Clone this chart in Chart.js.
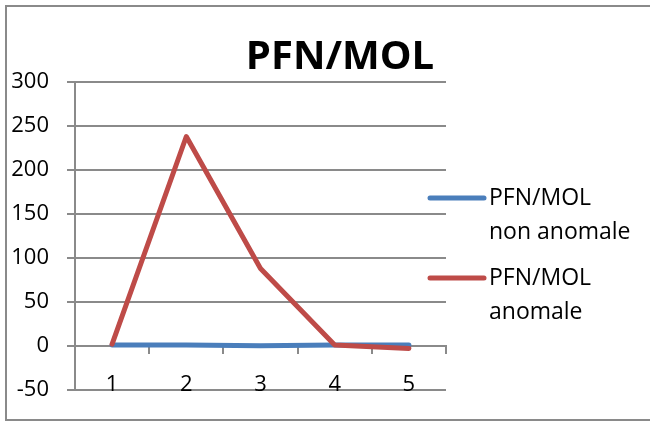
<!DOCTYPE html>
<html>
<head>
<meta charset="utf-8">
<script src="https://cdn.jsdelivr.net/npm/chart.js@4"></script>
<style>
  body { margin: 0; background: #fff; }
  #wrap { width: 650px; height: 421px; }
</style>
</head>
<body>
<div id="wrap"><canvas id="chart" width="650" height="421"></canvas></div>
<script>
const categorie = ["1", "2", "3", "4", "5"];
const nonAnomale = [1, 1, 0, 1, 1];
const anomale = [2, 238, 88, 1, -3];
const etichette = [["PFN/MOL", "non anomale"], ["PFN/MOL", "anomale"]];
const titolo = "PFN/MOL";

const grigio = "#8a8a8a";

// cornice esterna + legenda disegnata a mano (testo su due righe)
const cornice = {
    id: "cornice",
    beforeDraw(chart) {
        const ctx = chart.ctx;
        ctx.save();
        ctx.fillStyle = "#fff";
        ctx.fillRect(0, 0, chart.width, chart.height);
        ctx.strokeStyle = grigio;
        ctx.lineWidth = 2;
        ctx.strokeRect(6, 6, 700, 414);
        ctx.restore();
    },
    afterDraw(chart) {
        const ctx = chart.ctx;
        const area = chart.chartArea;
        ctx.save();
        ctx.font = "23px 'Open Sans'";
        ctx.textBaseline = "middle";
        ctx.fillStyle = "#000";
        chart.data.datasets.forEach((ds, i) => {
            const y = 198 + i * 80;
            ctx.strokeStyle = ds.borderColor;
            ctx.lineWidth = 5;
            ctx.lineCap = "round";
            ctx.beginPath();
            ctx.moveTo(area.right - 16, y);
            ctx.lineTo(area.right + 38, y);
            ctx.stroke();
            etichette[i].forEach((t, k) => {
                ctx.fillText(t, area.right + 43, y + k * 34);
            });
        });
        ctx.restore();
    }
};

new Chart(document.getElementById("chart"), {
    type: "line",
    data: {
        labels: categorie,
        datasets: [
            {
                label: "PFN/MOL non anomale",
                data: nonAnomale,
                borderColor: "#4a7ebb",
                borderWidth: 5,
                pointRadius: 0,
                borderCapStyle: "round",
                borderJoinStyle: "round",
                order: 1
            },
            {
                label: "PFN/MOL anomale",
                data: anomale,
                borderColor: "#be4b48",
                borderWidth: 5,
                pointRadius: 0,
                borderCapStyle: "round",
                borderJoinStyle: "round",
                order: 0
            }
        ]
    },
    options: {
        responsive: false,
        animation: false,
        // padding destro negativo: sposta il centro del titolo verso destra
        layout: { padding: { left: 0, right: -30, top: 0, bottom: 28 } },
        plugins: {
            legend: { display: false },
            tooltip: { enabled: false },
            title: {
                display: true,
                text: titolo,
                color: "#000",
                font: { family: "'Open Sans'", size: 40, weight: "bold" },
                padding: { top: 34, bottom: 0 }
            }
        },
        scales: {
            x: {
                position: { y: 0 },
                offset: true,
                grid: {
                    display: true,
                    offset: true,
                    drawOnChartArea: false,
                    drawTicks: true,
                    tickLength: 7,
                    color: grigio,
                    lineWidth: 2
                },
                border: { display: true, color: grigio, width: 2 },
                ticks: {
                    color: "#000",
                    padding: 19,
                    maxRotation: 0,
                    font: { family: "'Open Sans'", size: 22 }
                }
            },
            y: {
                min: -50,
                max: 300,
                afterFit: s => { s.width = 75; },
                grid: {
                    color: grigio,
                    lineWidth: 2,
                    tickLength: 8
                },
                border: { display: true, color: grigio, width: 2 },
                ticks: {
                    stepSize: 50,
                    color: "#000",
                    padding: 18,
                    font: { family: "'Open Sans'", size: 22 }
                }
            },
            spazio: {
                type: "linear",
                position: "right",
                display: true,
                afterFit: s => { s.width = 234; },
                grid: { display: false },
                border: { display: false },
                ticks: { display: false }
            }
        }
    },
    plugins: [cornice]
});
</script>
</body>
</html>
